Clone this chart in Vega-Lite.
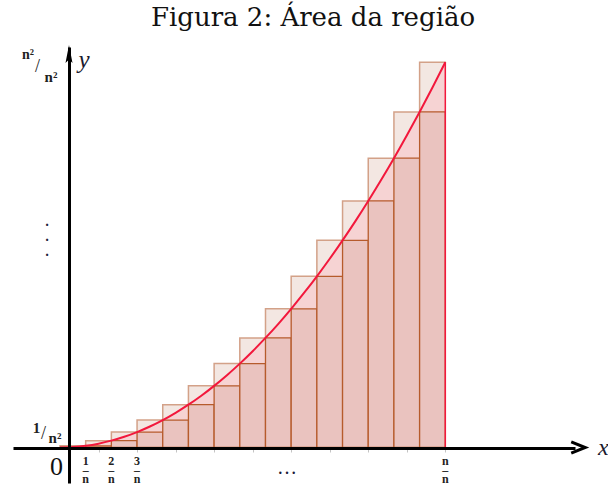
{
  "$schema": "https://vega.github.io/schema/vega-lite/v6.json",
  "width": 562,
  "height": 436,
  "autosize": {"type": "none"},
  "padding": {"left": 13, "top": 47, "right": 33, "bottom": 5},
  "background": "white",
  "title": {"text": "Figura 2: Área da região", "font": "DejaVu Serif", "fontSize": 26, "fontWeight": "normal", "color": "#111111", "anchor": "middle", "frame": "group", "offset": 20, "baseline": "alphabetic", "dx": 19, "dy": 27},
  "config": {"view": {"stroke": null}, "axis": {"grid": false}},
  "datasets": {
    "rects": [
      {"x": 0, "x2": 0.066667, "lower": 0, "upper": 0.004444},
      {"x": 0.066667, "x2": 0.133333, "lower": 0.004444, "upper": 0.017778},
      {"x": 0.133333, "x2": 0.2, "lower": 0.017778, "upper": 0.04},
      {"x": 0.2, "x2": 0.266667, "lower": 0.04, "upper": 0.071111},
      {"x": 0.266667, "x2": 0.333333, "lower": 0.071111, "upper": 0.111111},
      {"x": 0.333333, "x2": 0.4, "lower": 0.111111, "upper": 0.16},
      {"x": 0.4, "x2": 0.466667, "lower": 0.16, "upper": 0.217778},
      {"x": 0.466667, "x2": 0.533333, "lower": 0.217778, "upper": 0.284444},
      {"x": 0.533333, "x2": 0.6, "lower": 0.284444, "upper": 0.36},
      {"x": 0.6, "x2": 0.666667, "lower": 0.36, "upper": 0.444444},
      {"x": 0.666667, "x2": 0.733333, "lower": 0.444444, "upper": 0.537778},
      {"x": 0.733333, "x2": 0.8, "lower": 0.537778, "upper": 0.64},
      {"x": 0.8, "x2": 0.866667, "lower": 0.64, "upper": 0.751111},
      {"x": 0.866667, "x2": 0.933333, "lower": 0.751111, "upper": 0.871111},
      {"x": 0.933333, "x2": 1, "lower": 0.871111, "upper": 1}
    ],
    "curve": [
      {"x": 0, "y": 0}, {"x": 0.0333, "y": 0.00111}, {"x": 0.0667, "y": 0.00444}, {"x": 0.1, "y": 0.01},
      {"x": 0.1333, "y": 0.01778}, {"x": 0.1667, "y": 0.02778}, {"x": 0.2, "y": 0.04}, {"x": 0.2333, "y": 0.05444},
      {"x": 0.2667, "y": 0.07111}, {"x": 0.3, "y": 0.09}, {"x": 0.3333, "y": 0.11111}, {"x": 0.3667, "y": 0.13444},
      {"x": 0.4, "y": 0.16}, {"x": 0.4333, "y": 0.18778}, {"x": 0.4667, "y": 0.21778}, {"x": 0.5, "y": 0.25},
      {"x": 0.5333, "y": 0.28444}, {"x": 0.5667, "y": 0.32111}, {"x": 0.6, "y": 0.36}, {"x": 0.6333, "y": 0.40111},
      {"x": 0.6667, "y": 0.44444}, {"x": 0.7, "y": 0.49}, {"x": 0.7333, "y": 0.53778}, {"x": 0.7667, "y": 0.58778},
      {"x": 0.8, "y": 0.64}, {"x": 0.8333, "y": 0.69444}, {"x": 0.8667, "y": 0.75111}, {"x": 0.9, "y": 0.81},
      {"x": 0.9333, "y": 0.87111}, {"x": 0.9667, "y": 0.93444}, {"x": 1, "y": 1}
    ],
    "fractions": [
      {"x": 0.066667, "label": ["1", "–", "n"]},
      {"x": 0.133333, "label": ["2", "–", "n"]},
      {"x": 0.2, "label": ["3", "–", "n"]},
      {"x": 1, "label": ["n", "–", "n"]}
    ]
  },
  "layer": [
    {
      "data": {"name": "rects"},
      "mark": {"type": "rect", "fill": "#f3e7e2", "stroke": "#d3a188", "strokeWidth": 1.5},
      "encoding": {
        "x": {"field": "x", "type": "quantitative", "title": null,
              "scale": {"domain": [-0.12198, 1.33662], "nice": false, "zero": false},
              "axis": {"values": [0.1, 0.2, 0.3, 0.4, 0.5, 0.6, 0.7, 0.8, 0.9, 1.0], "labels": false, "ticks": true, "tickSize": 4, "tickColor": "#c4c4c4", "tickWidth": 1, "domain": true, "domainColor": "black", "domainWidth": 3, "offset": -35, "title": null, "zindex": 1, "grid": false}},
        "x2": {"field": "x2"},
        "y": {"field": "upper", "type": "quantitative", "title": null,
              "scale": {"domain": [-0.09216, 1.03972], "nice": false, "zero": false},
              "axis": {"labels": false, "ticks": false, "domain": true, "domainColor": "black", "domainWidth": 3, "offset": -56, "title": null, "zindex": 1, "grid": false}},
        "y2": {"datum": 0}
      }
    },
    {
      "data": {"name": "curve"},
      "mark": {"type": "area", "fill": "#f6d3d3", "interpolate": "monotone"},
      "encoding": {
        "x": {"field": "x", "type": "quantitative", "title": null},
        "y": {"field": "y", "type": "quantitative", "title": null},
        "y2": {"datum": 0}
      }
    },
    {
      "data": {"name": "rects"},
      "mark": {"type": "rect", "fill": "#eac3bf", "stroke": "#b65b2c", "strokeWidth": 1.3},
      "encoding": {
        "x": {"field": "x", "type": "quantitative", "title": null},
        "x2": {"field": "x2"},
        "y": {"field": "lower", "type": "quantitative", "title": null},
        "y2": {"datum": 0}
      }
    },
    {
      "data": {"name": "curve"},
      "mark": {"type": "line", "color": "#f2183c", "strokeWidth": 2, "interpolate": "monotone"},
      "encoding": {
        "x": {"field": "x", "type": "quantitative", "title": null},
        "y": {"field": "y", "type": "quantitative", "title": null}
      }
    },
    {
      "data": {"values": [{}]},
      "mark": {"type": "rule", "color": "#f2183c", "strokeWidth": 1.5},
      "encoding": {"x": {"datum": 1}, "y": {"datum": 0}, "y2": {"datum": 1}}
    },
    {
      "data": {"name": "fractions"},
      "mark": {"type": "text", "font": "Liberation Serif", "fontWeight": "bold", "fontSize": 12, "lineHeight": 9, "baseline": "alphabetic", "align": "center", "dy": 17.5, "color": "#222222"},
      "encoding": {"x": {"field": "x", "type": "quantitative", "title": null}, "y": {"datum": 0}, "text": {"field": "label", "type": "nominal"}}
    },
    {
      "data": {"values": [{}]},
      "mark": {"type": "text", "text": "0", "font": "Liberation Serif", "fontSize": 26, "baseline": "alphabetic", "align": "center", "dx": -3.5, "dy": 27.5, "color": "#111111"},
      "encoding": {"x": {"datum": 0}, "y": {"datum": 0}}
    },
    {
      "data": {"values": [{}]},
      "mark": {"type": "text", "text": "…", "font": "Liberation Serif", "fontSize": 20, "baseline": "alphabetic", "align": "center", "dy": 27, "color": "#1b1b3a"},
      "encoding": {"x": {"datum": 0.589}, "y": {"datum": 0}}
    },
    {
      "data": {"values": [{}]},
      "mark": {"type": "text", "text": ["·", "·", "·"], "font": "Liberation Serif", "fontWeight": "bold", "fontSize": 14, "lineHeight": 15, "baseline": "middle", "align": "center", "color": "#1b1b3a"},
      "encoding": {"x": {"datum": -0.0337}, "y": {"datum": 0.5758}}
    },
    {
      "data": {"values": [{}]},
      "mark": {"type": "text", "text": "1", "font": "Liberation Serif", "fontWeight": "bold", "fontSize": 15, "baseline": "alphabetic", "align": "center", "dx": -23.5, "dy": -12.8, "color": "#222222"},
      "encoding": {"x": {"datum": 0}, "y": {"datum": 0.004444}}
    },
    {
      "data": {"values": [{}]},
      "mark": {"type": "text", "text": "/", "font": "Liberation Serif", "fontSize": 18, "baseline": "alphabetic", "align": "center", "dx": -16.5, "dy": -7, "color": "#222222"},
      "encoding": {"x": {"datum": 0}, "y": {"datum": 0.004444}}
    },
    {
      "data": {"values": [{}]},
      "mark": {"type": "text", "text": "n²", "font": "Liberation Serif", "fontWeight": "bold", "fontSize": 15, "baseline": "alphabetic", "align": "center", "dx": -5, "dy": -3, "color": "#222222"},
      "encoding": {"x": {"datum": 0}, "y": {"datum": 0.004444}}
    },
    {
      "data": {"values": [{}]},
      "mark": {"type": "text", "text": "n²", "font": "Liberation Serif", "fontWeight": "bold", "fontSize": 14, "baseline": "alphabetic", "align": "center", "dx": -32, "dy": -3.3, "color": "#222222"},
      "encoding": {"x": {"datum": 0}, "y": {"datum": 1}}
    },
    {
      "data": {"values": [{}]},
      "mark": {"type": "text", "text": "/", "font": "Liberation Serif", "fontSize": 18, "baseline": "alphabetic", "align": "center", "dx": -22.5, "dy": 10, "color": "#222222"},
      "encoding": {"x": {"datum": 0}, "y": {"datum": 1}}
    },
    {
      "data": {"values": [{}]},
      "mark": {"type": "text", "text": "n²", "font": "Liberation Serif", "fontWeight": "bold", "fontSize": 15, "baseline": "alphabetic", "align": "center", "dx": -9, "dy": 20, "color": "#222222"},
      "encoding": {"x": {"datum": 0}, "y": {"datum": 1}}
    },
    {
      "data": {"values": [{}]},
      "mark": {"type": "text", "text": "y", "font": "Liberation Serif", "fontStyle": "italic", "fontSize": 25, "baseline": "alphabetic", "align": "center", "dx": 24, "dy": 5.7, "color": "#1a1a2e"},
      "encoding": {"x": {"datum": 0}, "y": {"datum": 1}}
    },
    {
      "data": {"values": [{}]},
      "mark": {"type": "text", "text": "x", "font": "Liberation Serif", "fontStyle": "italic", "fontSize": 24, "baseline": "alphabetic", "align": "center", "dx": 4, "dy": 7.5, "color": "#1a1a2e"},
      "encoding": {"x": {"datum": 1.4}, "y": {"datum": 0}}
    },
    {
      "data": {"values": [{}]},
      "mark": {"type": "point", "shape": "M-1,-0.8L1,0L-1,0.8", "filled": false, "stroke": "black", "strokeWidth": 3, "size": 196, "opacity": 1},
      "encoding": {"x": {"datum": 1.345}, "y": {"datum": 0}}
    },
    {
      "data": {"values": [{}]},
      "mark": {"type": "point", "shape": "M0,-1L0.35,0.8L0,0.45L-0.35,0.8Z", "filled": true, "fill": "black", "size": 400, "opacity": 1},
      "encoding": {"x": {"datum": 0.02336}, "y": {"datum": 1.019}}
    }
  ]
}
